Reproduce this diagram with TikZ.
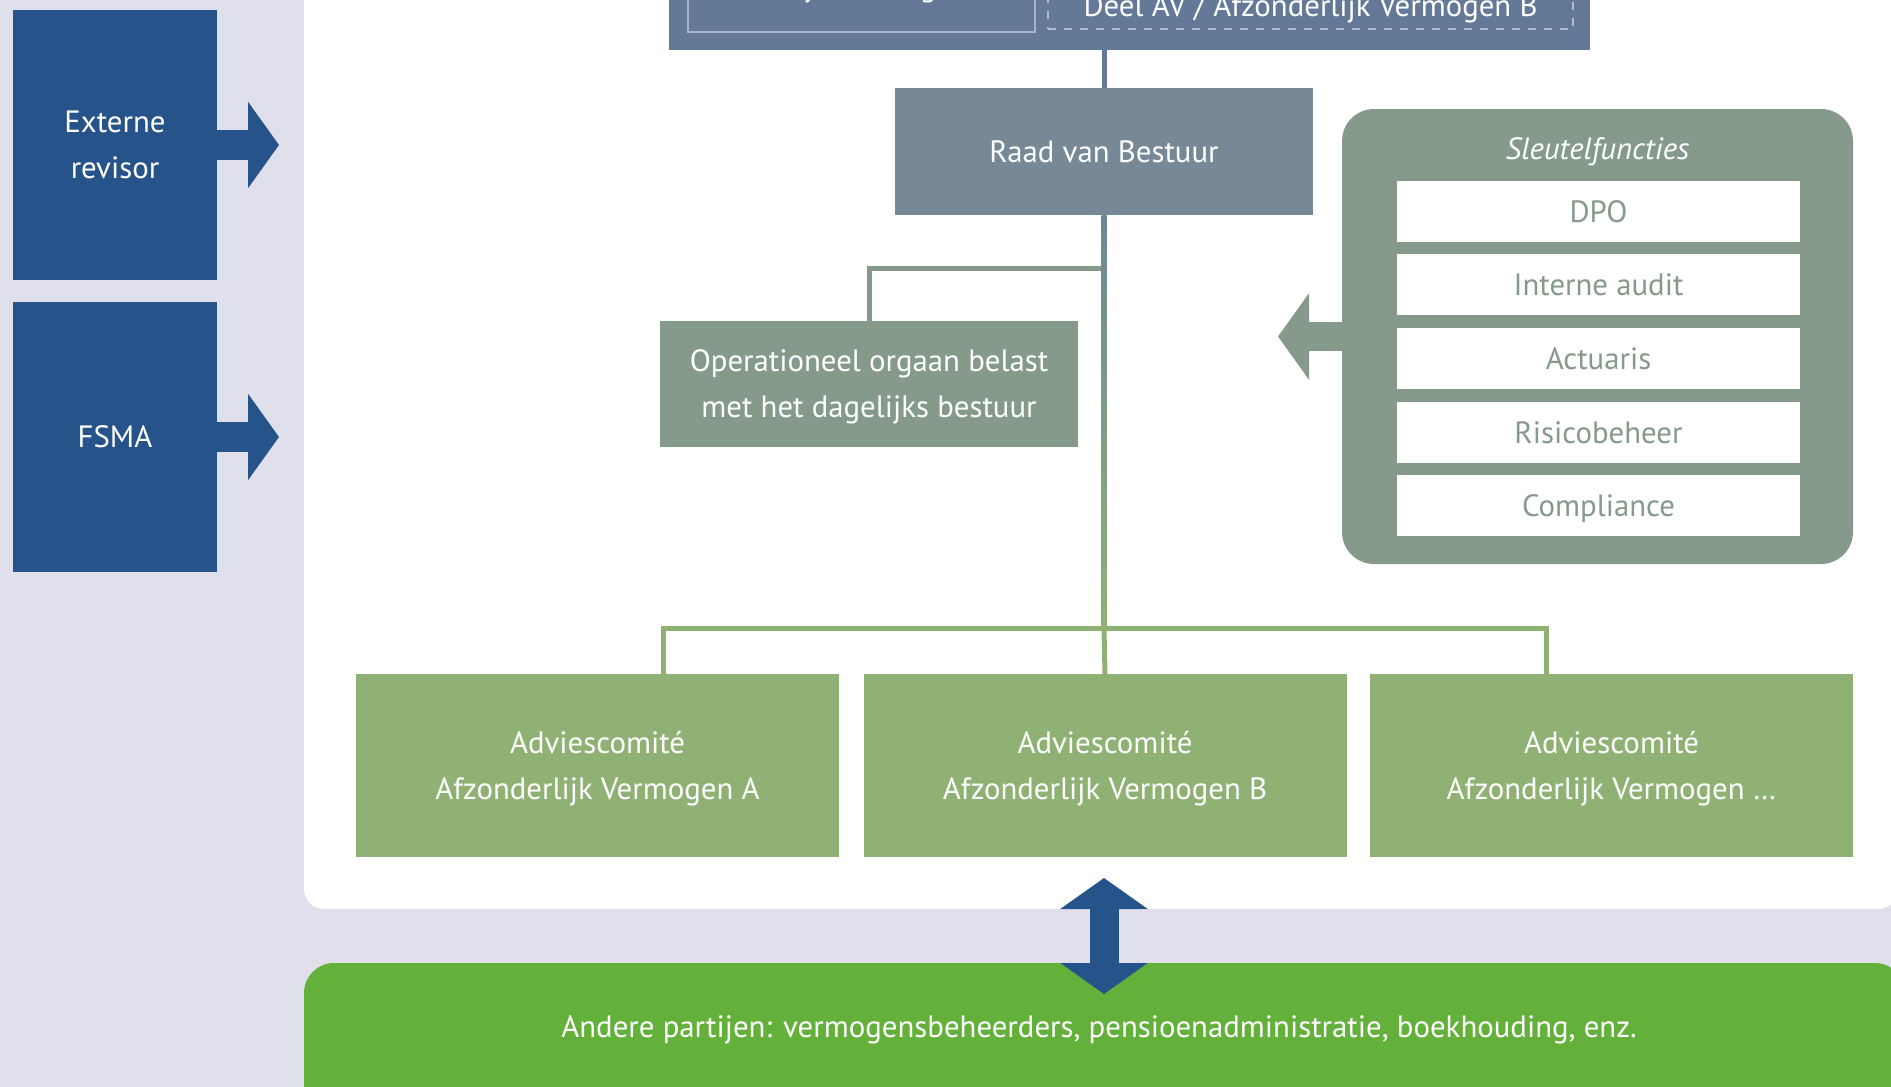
\documentclass[tikz,border=0pt]{standalone}
\usepackage{fontspec}
\setmainfont{PT Sans}
\usetikzlibrary{arrows.meta,calc}
\definecolor{lav}{HTML}{E0E0EC}
\definecolor{navy}{HTML}{265389}
\definecolor{slate}{HTML}{647998}
\definecolor{raadc}{HTML}{778996}
\definecolor{ggreen}{HTML}{869A8B}
\definecolor{lgreen}{HTML}{8FB274}
\definecolor{bgreen}{HTML}{63B13B}
\definecolor{solidb}{HTML}{A9B3C6}
\definecolor{dashb}{HTML}{B3BACB}
\definecolor{linetop}{HTML}{6E8795}
\begin{document}
\begin{tikzpicture}[x=1pt,y=-1pt,
  txt/.style={font=\fontsize{30.8}{46}\selectfont, text=white, align=center, inner sep=0pt},
  box/.style={txt, text depth=0pt, minimum width=#1, anchor=center},
  item/.style={txt, text depth=0pt, text=ggreen, fill=white, minimum width=403pt, minimum height=61pt},
  conn/.style={line width=5pt},
  bigarrow/.style={line width=#1, -{Triangle[length=31pt,width=85pt]}},
]
\fill[lav] (0,0) rectangle (1891,1087);
\useasboundingbox (0,0) rectangle (1891,1087);
\fill[white, rounded corners=20pt] (304,-60) rectangle (1898,909);
\fill[bgreen, rounded corners=30pt] (304,963) rectangle (1905,1150);

% top box
\node[fill=slate, minimum width=921pt, minimum height=110pt, inner sep=0pt] (av) at (1129.5,-5) {};
\node[draw=solidb, line width=2pt, minimum width=347pt, minimum height=60pt, inner sep=0pt] (ava) at (861.5,2) {};
\node[draw=dashb, line width=2pt, dash pattern=on 8pt off 8pt, minimum width=525pt, minimum height=60pt, inner sep=0pt] (avb) at (1310.5,-1) {};
\node[txt, anchor=base] (avatext) at (833,-4) {Afzonderlijk Vermogen A};
\node[txt, anchor=base] (avbtext) at (1310.5,16) {Deel AV / Afzonderlijk Vermogen B};

% Raad van Bestuur
\node[box=418pt, fill=raadc, minimum height=127pt] (raad) at (1104,151.5) {Raad van Bestuur};
\draw[slate, conn] (raad.north |- av.south) -- (raad.north);

% Operationeel orgaan
\node[box=418pt, fill=ggreen, minimum height=126pt] (oper) at (869,384) {Operationeel orgaan belast\\met het dagelijks bestuur};

% Adviescomites
\node[box=483pt, fill=lgreen, minimum height=183pt] (advA) at (597.5,765.5) {Adviescomité\\Afzonderlijk Vermogen A};
\node[box=483pt, fill=lgreen, minimum height=183pt] (advB) at (1105,765.5) {Adviescomité\\Afzonderlijk Vermogen B};
\node[box=483pt, fill=lgreen, minimum height=183pt] (advC) at (1611.5,765.5) {Adviescomité\\Afzonderlijk Vermogen \dots};

% connectors
\coordinate (split) at (1104,268);
\coordinate (bus) at (1104,628);
\draw[ggreen, conn] (split) -| (oper.north);
\draw[lgreen, conn] ([xshift=65.5pt]advA.north) |- (bus) -| ([xshift=-65.5pt]advC.north);
\draw[lgreen, conn] (bus) -- (advB.north);
\shade[top color=linetop, bottom color=lgreen] ($(raad.south)+(-2.5,0)$) rectangle ($(bus)+(2.5,2.5)$);

% Sleutelfuncties
\coordinate (sltip) at (1278,336.5);
\node[fill=ggreen, rounded corners=32pt, minimum width=511pt, minimum height=455pt, inner sep=0pt] (sleutel) at (1597.5,336.5) {};
\draw[ggreen, bigarrow=29pt] (sleutel.west) -- (sltip);
\node[txt, font=\fontsize{30.8}{46}\selectfont\itshape] (sltitle) at (1597.5,152) {Sleutelfuncties};
\node[item] (dpo) at (1598.5,211.5) {DPO};
\node[item] (audit) at (1598.5,284.5) {Interne audit};
\node[item] (actu) at (1598.5,358.5) {Actuaris};
\node[item] (risico) at (1598.5,432.5) {Risicobeheer};
\node[item] (compl) at (1598.5,505.5) {Compliance};

% External
\node[box=204pt, fill=navy, minimum height=270pt] (ext) at (115,145) {Externe\\revisor};
\node[box=204pt, fill=navy, minimum height=270pt] (fsma) at (115,437) {FSMA};
\coordinate (exttip) at (279,145);
\coordinate (fsmatip) at (279,437);
\draw[navy, bigarrow=30pt] (ext.east) -- (exttip);
\draw[navy, bigarrow=30pt] (fsma.east) -- (fsmatip);

% Andere partijen
\node[txt, text depth=0pt] (andere) at (1099,1027) {Andere partijen: vermogensbeheerders, pensioenadministratie, boekhouding, enz.};
\coordinate (dtop) at (1104,878);
\coordinate (dbot) at (1104,994);
\draw[navy, line width=29pt, {Triangle[length=31pt,width=86pt]}-{Triangle[length=31pt,width=86pt]}] (dtop) -- (dbot);
\end{tikzpicture}
\end{document}
